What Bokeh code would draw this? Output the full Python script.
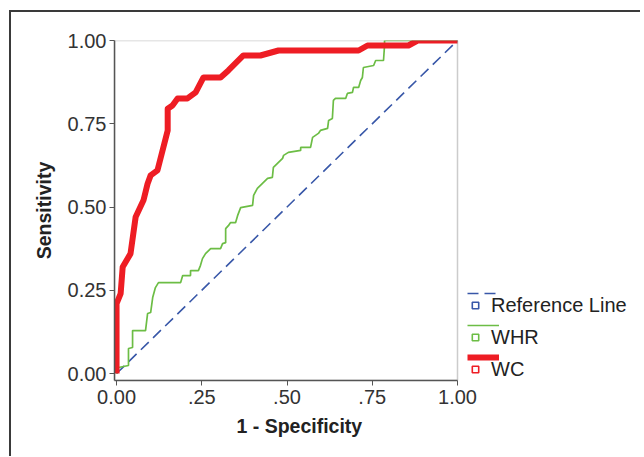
from bokeh.plotting import figure
from bokeh.models import FixedTicker, Legend, LegendItem, Range1d, ColumnDataSource, BoxAnnotation, Title
from bokeh.embed import file_html
from bokeh.resources import INLINE

# ---- data ----
ref_fpr = [0.0, 1.0]
ref_tpr = [0.0, 1.0]

whr_fpr = [0.0, 0.006, 0.035, 0.035, 0.047, 0.047, 0.085, 0.091, 0.100, 0.106, 0.114, 0.123,
           0.188, 0.194, 0.217, 0.217, 0.240, 0.246, 0.252, 0.261, 0.276, 0.305, 0.311, 0.320,
           0.320, 0.328, 0.334, 0.349, 0.355, 0.364, 0.399, 0.402, 0.413, 0.428, 0.443, 0.457,
           0.460, 0.472, 0.487, 0.490, 0.504, 0.540, 0.540, 0.569, 0.575, 0.592, 0.598, 0.619,
           0.622, 0.633, 0.636, 0.642, 0.672, 0.677, 0.692, 0.695, 0.710, 0.716, 0.721, 0.724,
           0.754, 0.760, 0.783, 0.786, 0.786, 1.0]
whr_tpr = [0.0, 0.018, 0.024, 0.075, 0.078, 0.129, 0.129, 0.180, 0.183, 0.228, 0.258, 0.273,
           0.273, 0.294, 0.294, 0.309, 0.309, 0.324, 0.345, 0.360, 0.375, 0.375, 0.390, 0.393,
           0.435, 0.444, 0.453, 0.453, 0.474, 0.498, 0.505, 0.535, 0.556, 0.571, 0.586, 0.589,
           0.619, 0.631, 0.646, 0.655, 0.664, 0.670, 0.679, 0.679, 0.709, 0.721, 0.730, 0.736,
           0.760, 0.766, 0.820, 0.826, 0.826, 0.841, 0.844, 0.859, 0.859, 0.880, 0.889, 0.919,
           0.925, 0.940, 0.940, 0.985, 1.0, 1.0]

wc_fpr = [0.0, 0.0, 0.012, 0.018, 0.041, 0.056, 0.079, 0.091, 0.100, 0.120, 0.150, 0.150,
          0.164, 0.179, 0.208, 0.232, 0.255, 0.305, 0.328, 0.372, 0.422, 0.475, 0.710, 0.736,
          0.856, 0.883, 1.0]
wc_tpr = [0.0, 0.210, 0.240, 0.320, 0.360, 0.470, 0.520, 0.570, 0.595, 0.610, 0.730, 0.795,
          0.805, 0.826, 0.826, 0.844, 0.889, 0.889, 0.910, 0.955, 0.955, 0.970, 0.970, 0.985,
          0.985, 1.0, 1.0]

x_ticks = [0.0, 0.25, 0.5, 0.75, 1.0]
x_tick_labels = ["0.00", ".25", ".50", ".75", "1.00"]
y_ticks = [0.0, 0.25, 0.5, 0.75, 1.0]
y_tick_labels = ["0.00", "0.25", "0.50", "0.75", "1.00"]

series_names = ["Reference Line", "WHR", "WC"]
series_colors = ["#3857a8", "#6cbd45", "#ee1d24"]

x_title = "1 - Specificity"
y_title = "Sensitivity"

FONT = "Liberation Sans"

# plot box geometry (style): the data box is 343 px wide, the frame extends to hold the legend
X0, X1, Y0, Y1 = -0.006, 1.0, -0.021, 1.0
BOX_W = 343
FRAME_W = 520
x_end = X0 + FRAME_W * (X1 - X0) / BOX_W

p = figure(frame_width=FRAME_W, frame_height=340,
           min_border_left=103, min_border_top=28, min_border_right=6, min_border_bottom=76,
           x_range=Range1d(X0, x_end), y_range=Range1d(Y0, Y1),
           output_backend="svg", toolbar_location=None)
p.styles = {"margin-left": "9px", "margin-top": "10px",
            "border-left": "2px solid #3a3a3a", "border-top": "2px solid #3a3a3a"}

p.xgrid.visible = False
p.ygrid.visible = False
p.outline_line_color = None
p.background_fill_color = "white"
p.border_fill_color = "white"

# plot box outline
p.add_layout(BoxAnnotation(left=X0, right=X1, bottom=Y0, top=Y1, fill_color=None,
                           line_color="#555555", line_width=1.5))

r_ref = p.line(ref_fpr, ref_tpr, line_color=series_colors[0], line_width=1.6, line_dash="11 6")
r_whr = p.line(whr_fpr, whr_tpr, line_color=series_colors[1], line_width=1.7)
r_wc = p.line(wc_fpr, wc_tpr, line_color=series_colors[2], line_width=6, line_join="round")

# legend-only square markers (hidden renderers, used only for their legend symbol)
sq = []
for c in series_colors:
    r = p.scatter(x="x", y="y", source=ColumnDataSource(dict(x=ref_fpr[:1], y=ref_tpr[:1])),
                  marker="square", size=7, fill_color="white", line_color=c, line_width=1.6)
    r.visible = False
    sq.append(r)

for ax in (p.xaxis[0], p.yaxis[0]):
    ax.axis_line_color = "#555555"
    ax.axis_line_width = 1.5
    ax.major_tick_line_color = "#555555"
    ax.major_tick_in = 0
    ax.major_tick_out = 5
    ax.minor_tick_line_color = None
    ax.major_label_text_font = FONT
    ax.major_label_text_font_size = "20px"
    ax.major_label_text_color = "#333333"
    ax.axis_label_text_font = FONT
    ax.axis_label_text_font_size = "19.5px"
    ax.axis_label_text_font_style = "bold"
    ax.axis_label_text_color = "#222222"

p.xaxis.bounds = (X0, X1)
p.xaxis.ticker = FixedTicker(ticks=x_ticks)
p.yaxis.ticker = FixedTicker(ticks=y_ticks)
p.xaxis.major_label_overrides = dict(zip(x_ticks, x_tick_labels))
p.yaxis.major_label_overrides = dict(zip(y_ticks, y_tick_labels))
p.yaxis.axis_label = y_title
p.xaxis.major_label_standoff = 4
p.yaxis.major_label_standoff = 3
p.yaxis.axis_label_standoff = 10

# x-axis title centred under the data box (not under the wider frame)
p.add_layout(Title(text=x_title, align="left", offset=122, standoff=13,
                   text_font=FONT, text_font_size="19.5px", text_font_style="bold",
                   text_color="#222222"), "below")

# legend part 1: line samples
leg_lines = Legend(items=[LegendItem(label="", renderers=[r]) for r in (r_ref, r_whr, r_wc)],
                   location=(353, 11), glyph_width=32, glyph_height=24, label_height=24,
                   spacing=8, padding=0, margin=0, label_standoff=0,
                   background_fill_alpha=0, border_line_color=None, inactive_fill_alpha=0)
# legend part 2: square symbols with names
leg_names = Legend(items=[LegendItem(label=n, renderers=[s]) for n, s in zip(series_names, sq)],
                   location=(353, -1), glyph_width=16, glyph_height=24, label_height=24,
                   spacing=8, padding=0, margin=0, label_standoff=8,
                   label_text_font=FONT, label_text_font_size="20px", label_text_color="#222222",
                   background_fill_alpha=0, border_line_color=None, inactive_fill_alpha=0)
p.add_layout(leg_lines, "center")
p.add_layout(leg_names, "center")

open("out.html", "w").write(file_html(p, INLINE))
